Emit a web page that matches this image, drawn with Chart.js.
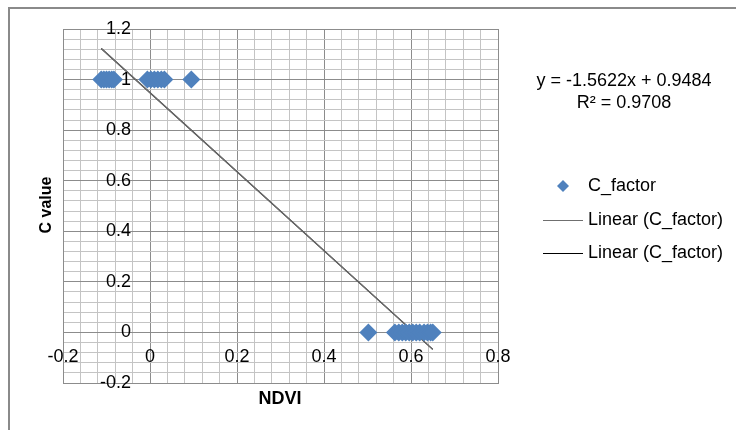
<!DOCTYPE html>
<html>
<head>
<meta charset="utf-8">
<script src="https://cdn.jsdelivr.net/npm/chart.js@4"></script>
<style>
  html, body { margin: 0; padding: 0; background: #fff; }
  canvas { display: block; }
</style>
</head>
<body>
<canvas id="chart" width="736" height="430"></canvas>
<script>
/* ── Data ── */

const ndvi     = [-0.112, -0.106, -0.100, -0.094, -0.088, -0.083,
                  -0.006, 0.002, 0.010, 0.018, 0.026, 0.033, 0.095,
                  0.502, 0.563, 0.572, 0.580, 0.588, 0.596, 0.604,
                  0.612, 0.620, 0.630, 0.638, 0.645, 0.650];
const cFactor  = [1, 1, 1, 1, 1, 1,
                  1, 1, 1, 1, 1, 1, 1,
                  0, 0, 0, 0, 0, 0, 0,
                  0, 0, 0, 0, 0, 0];
const trendX   = [-0.112, 0.650];
const trendY   = [1.123, -0.067];

const xTickLabels = [-0.2, 0, 0.2, 0.4, 0.6, 0.8];
const yTickLabels = [-0.2, 0, 0.2, 0.4, 0.6, 0.8, 1, 1.2];

const equationText = 'y = -1.5622x + 0.9484';
const r2Text       = 'R² = 0.9708';

/* ── Styling ── */

const FONT    = `'Liberation Sans', Arial, sans-serif`;
const BLUE    = '#4f81bd';
const MAJOR   = '#8c8c8c';
const MINOR   = '#c4c4c4';

const isMajor = v => Math.abs(v / 0.2 - Math.round(v / 0.2)) < 1e-6;

const toPoints = (xs, ys) => xs.map((x, i) => ({ x, y: ys[i] }));

const textPlugin = {
    id: 'excelText',
    beforeDraw(chart) {
        const { ctx } = chart;
        ctx.save();
        ctx.fillStyle = '#fff';
        ctx.fillRect(0, 0, chart.width, chart.height);
        // outer chart frame (only top & left visible)
        ctx.strokeStyle = '#8a8a8a';
        ctx.lineWidth   = 2;
        ctx.beginPath();
        ctx.moveTo(9, chart.height + 5);
        ctx.lineTo(9, 8);
        ctx.lineTo(chart.width + 5, 8);
        ctx.stroke();
        ctx.restore();
    },
    afterDraw(chart) {
        const { ctx } = chart;
        const xs = chart.scales.x;
        const ys = chart.scales.y;
        const x0 = xs.getPixelForValue(0);
        const y0 = ys.getPixelForValue(0);

        ctx.save();
        ctx.fillStyle = '#000';
        ctx.font = `18px ${FONT}`;

        // y tick labels, left of the x = 0 line
        ctx.textAlign    = 'right';
        ctx.textBaseline = 'middle';
        yTickLabels.forEach(v => ctx.fillText(String(v), x0 - 19, ys.getPixelForValue(v)));

        // x tick labels, under the y = 0 line
        ctx.textAlign = 'center';
        xTickLabels.forEach(v => ctx.fillText(String(v), xs.getPixelForValue(v), y0 + 25));

        // axis titles
        ctx.font = `bold 18px ${FONT}`;
        ctx.fillText('NDVI', 280, 399);
        ctx.save();
        ctx.translate(47, 205);
        ctx.rotate(-Math.PI / 2);
        ctx.font = `bold 16px ${FONT}`;
        ctx.fillText('C value', 0, 0);
        ctx.restore();

        // trendline equation
        ctx.font = `18px ${FONT}`;
        ctx.fillText(equationText, 624, 81);
        ctx.fillText(r2Text, 624, 103);

        // legend
        ctx.textAlign = 'left';
        ctx.fillStyle = BLUE;
        ctx.beginPath();
        ctx.moveTo(563, 180); ctx.lineTo(569, 186); ctx.lineTo(563, 192); ctx.lineTo(557, 186);
        ctx.closePath();
        ctx.fill();
        ctx.fillStyle = '#000';
        ctx.fillText('C_factor', 588, 186);

        ctx.lineWidth = 1;
        [[220, '#6f6f6f'], [253, '#000']].forEach(([ly, col]) => {
            ctx.strokeStyle = col;
            ctx.beginPath();
            ctx.moveTo(543, ly + 0.5);
            ctx.lineTo(583, ly + 0.5);
            ctx.stroke();
            ctx.fillText('Linear (C_factor)', 588, ly);
        });
        ctx.restore();
    }
};

new Chart(document.getElementById('chart').getContext('2d'), {
    type: 'scatter',
    plugins: [textPlugin],
    data: {
        datasets: [
            {
                label: 'C_factor',
                data: toPoints(ndvi, cFactor),
                pointStyle: 'rectRot',
                pointRadius: 9,
                pointHoverRadius: 9,
                backgroundColor: BLUE,
                borderColor: BLUE,
                borderWidth: 0,
            },
            {
                label: 'Linear (C_factor)',
                data: toPoints(trendX, trendY),
                showLine: true,
                pointRadius: 0,
                borderColor: '#6f6f6f',
                borderWidth: 1.2,
            },
            {
                label: 'Linear (C_factor)',
                data: toPoints(trendX, trendY),
                showLine: true,
                pointRadius: 0,
                borderColor: '#111',
                borderWidth: 1.2,
            },
        ]
    },
    options: {
        responsive: false,
        animation:  false,
        events:     [],
        layout: { padding: { left: 63, right: 238, top: 29, bottom: 47 } },
        plugins: {
            legend:  { display: false },
            tooltip: { enabled: false },
        },
        scales: {
            x: {
                type: 'linear',
                min: -0.2, max: 0.8,
                ticks: { display: false, stepSize: 0.04 },
                grid: {
                    drawTicks: false,
                    color: c => isMajor(c.tick.value) ? MAJOR : MINOR,
                },
                border: { color: MAJOR },
            },
            y: {
                type: 'linear',
                min: -0.2, max: 1.2,
                ticks: { display: false, stepSize: 0.04 },
                grid: {
                    drawTicks: false,
                    color: c => isMajor(c.tick.value) ? MAJOR : MINOR,
                },
                border: { color: MAJOR },
            },
        },
    }
});
</script>
</body>
</html>
